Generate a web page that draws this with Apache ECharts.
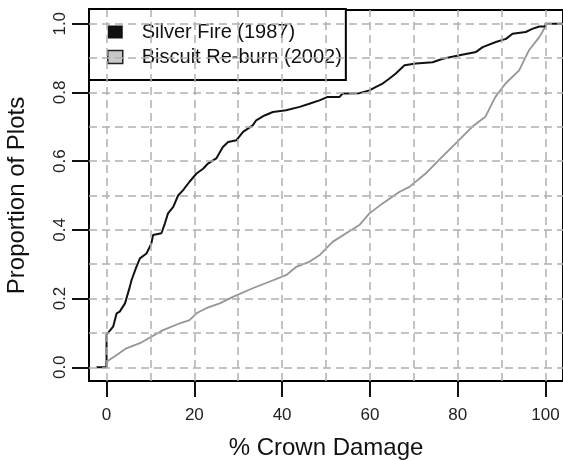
<!DOCTYPE html>
<html>
<head>
<meta charset="utf-8">
<script src="https://cdn.jsdelivr.net/npm/echarts@6/dist/echarts.min.js"></script>
<style>
  html, body { margin: 0; padding: 0; background: #fff; }
  #chart { width: 563px; height: 461px; }
</style>
</head>
<body>
<div id="chart"></div>
<script>
// ECDF of % crown damage
var silverPct = [-2.3, 0, 0, 1.5, 2.3, 3.0, 4.2, 5.3, 5.7, 6.8, 7.6, 9.1, 10.2, 10.6, 12.5, 13.3, 14.0, 15.2, 16.3, 17.4,
  18.9, 20.5, 22.0, 23.1, 25.0, 26.5, 27.7, 29.6, 31.1, 33.3, 34.1, 36.0, 37.9, 40.9, 44.0, 46.2, 48.5, 50.4, 53.1, 53.8,
  57.6, 59.9, 61.4, 62.9, 64.4, 65.9, 67.9, 70.5, 74.3, 76.6, 80.4, 84.2, 85.7, 88.7, 91.0, 92.5, 95.5, 97.0, 98.6, 100, 100, 104];
var silverProp = [0, 0, 0.095, 0.118, 0.157, 0.162, 0.186, 0.234, 0.254, 0.292, 0.317, 0.331, 0.36, 0.385, 0.39, 0.419, 0.448, 0.467, 0.50, 0.515,
  0.54, 0.564, 0.578, 0.593, 0.608, 0.641, 0.656, 0.661, 0.685, 0.704, 0.719, 0.733, 0.743, 0.748, 0.758, 0.767, 0.777, 0.787, 0.787, 0.797,
  0.798, 0.806, 0.816, 0.826, 0.84, 0.855, 0.879, 0.884, 0.888, 0.898, 0.908, 0.918, 0.932, 0.947, 0.956, 0.971, 0.976, 0.985, 0.992, 0.992, 1, 1];

var biscuitPct = [0, 0, 2.3, 4.5, 7.6, 10.2, 12.9, 16.7, 18.9, 20.5, 22.7, 25.8, 28.8, 33.3, 37.1, 40.9, 43.2, 46.2, 48.5, 51.5,
  54.6, 57.6, 59.9, 62.9, 66.7, 69.0, 72.7, 75.7, 79.5, 83.3, 86.3, 88.6, 90.9, 94.0, 96.2, 98.6, 100, 100];
var biscuitProp = [0, 0.016, 0.036, 0.055, 0.07, 0.089, 0.108, 0.128, 0.137, 0.157, 0.172, 0.186, 0.205, 0.23, 0.249, 0.268, 0.292, 0.307, 0.326, 0.365,
  0.39, 0.414, 0.448, 0.477, 0.51, 0.525, 0.564, 0.603, 0.651, 0.70, 0.729, 0.787, 0.826, 0.864, 0.922, 0.961, 0.992, 1];

var xTicks = [0, 20, 40, 60, 80, 100];
var yTicks = [0, 0.2, 0.4, 0.6, 0.8, 1];
var xGrid = [0, 10, 20, 30, 40, 50, 60, 70, 80, 90, 100];
var yGrid = [0, 0.1, 0.2, 0.3, 0.4, 0.5, 0.6, 0.7, 0.8, 0.9, 1];

var seriesNames = ['Silver Fire (1987)', 'Biscuit Re-burn (2002)'];

function pairs(xs, ys) {
  return xs.map(function (x, i) { return [x, ys[i]]; });
}

var FONT = "'Liberation Sans', Arial, Helvetica, sans-serif";

var chartDom = document.getElementById('chart');
var myChart = echarts.init(chartDom);
var option;

option = {
  animation: false,
  textStyle: { fontFamily: FONT },
  grid: {
    left: 89,
    top: 10,
    right: 0,
    bottom: 80,
    outerBoundsMode: 'none',
    show: true,
    borderColor: '#000',
    borderWidth: 2
  },
  legend: {
    orient: 'vertical',
    left: 89,
    top: 9,
    padding: [13, 4, 13, 18],
    itemWidth: 15,
    itemHeight: 13,
    itemGap: 5,
    backgroundColor: '#fff',
    borderColor: '#000',
    borderWidth: 2,
    borderRadius: 0,
    selectedMode: false,
    textStyle: { fontSize: 20, color: '#111', fontFamily: FONT, padding: [0, 0, 0, 14], lineHeight: 20 },
    data: [
      { name: seriesNames[0], icon: 'rect', itemStyle: { color: '#111', borderWidth: 0 } },
      { name: seriesNames[1], icon: 'rect', itemStyle: { color: '#c8c8c8', borderColor: '#222', borderWidth: 1.5 } }
    ]
  },
  xAxis: {
    type: 'value',
    min: -4,
    max: 104,
    name: '% Crown Damage',
    nameLocation: 'middle',
    nameGap: 55,
    nameTextStyle: { fontSize: 24, color: '#111', fontFamily: FONT },
    axisLine: { show: true, onZero: false, lineStyle: { color: '#000', width: 2 } },
    axisTick: { show: true, customValues: xTicks, length: 16, lineStyle: { color: '#111', width: 2 } },
    axisLabel: { customValues: xTicks, fontSize: 17, color: '#222', margin: 26 },
    splitLine: { show: false }
  },
  yAxis: {
    type: 'value',
    min: -0.04,
    max: 1.04,
    name: 'Proportion of Plots',
    nameLocation: 'middle',
    nameGap: 60,
    nameTextStyle: { fontSize: 24, color: '#111', fontFamily: FONT },
    axisLine: { show: true, onZero: false, lineStyle: { color: '#000', width: 2 } },
    axisTick: { show: true, customValues: yTicks, length: 17, lineStyle: { color: '#111', width: 2 } },
    axisLabel: {
      customValues: yTicks,
      rotate: 90,
      fontSize: 17,
      color: '#222',
      margin: 20,
      formatter: function (v) { return v.toFixed(1); }
    },
    splitLine: { show: false }
  },
  series: [
    {
      name: 'grid',
      type: 'line',
      data: [],
      silent: true,
      markLine: {
        silent: true,
        symbol: ['none', 'none'],
        label: { show: false },
        lineStyle: { color: '#b0b0b0', width: 1.5, type: [8, 5] },
        data: xGrid.map(function (v) { return { xAxis: v }; })
          .concat(yGrid.map(function (v) { return { yAxis: v }; }))
      }
    },
    {
      name: seriesNames[1],
      type: 'line',
      showSymbol: false,
      symbol: 'none',
      itemStyle: { color: '#c8c8c8' },
      lineStyle: { color: '#959595', width: 1.8 },
      data: pairs(biscuitPct, biscuitProp)
    },
    {
      name: seriesNames[0],
      type: 'line',
      showSymbol: false,
      symbol: 'none',
      itemStyle: { color: '#111' },
      lineStyle: { color: '#111', width: 2 },
      data: pairs(silverPct, silverProp)
    }
  ]
};

option && myChart.setOption(option);
window.addEventListener('resize', function () { myChart.resize(); });
</script>
</body>
</html>
